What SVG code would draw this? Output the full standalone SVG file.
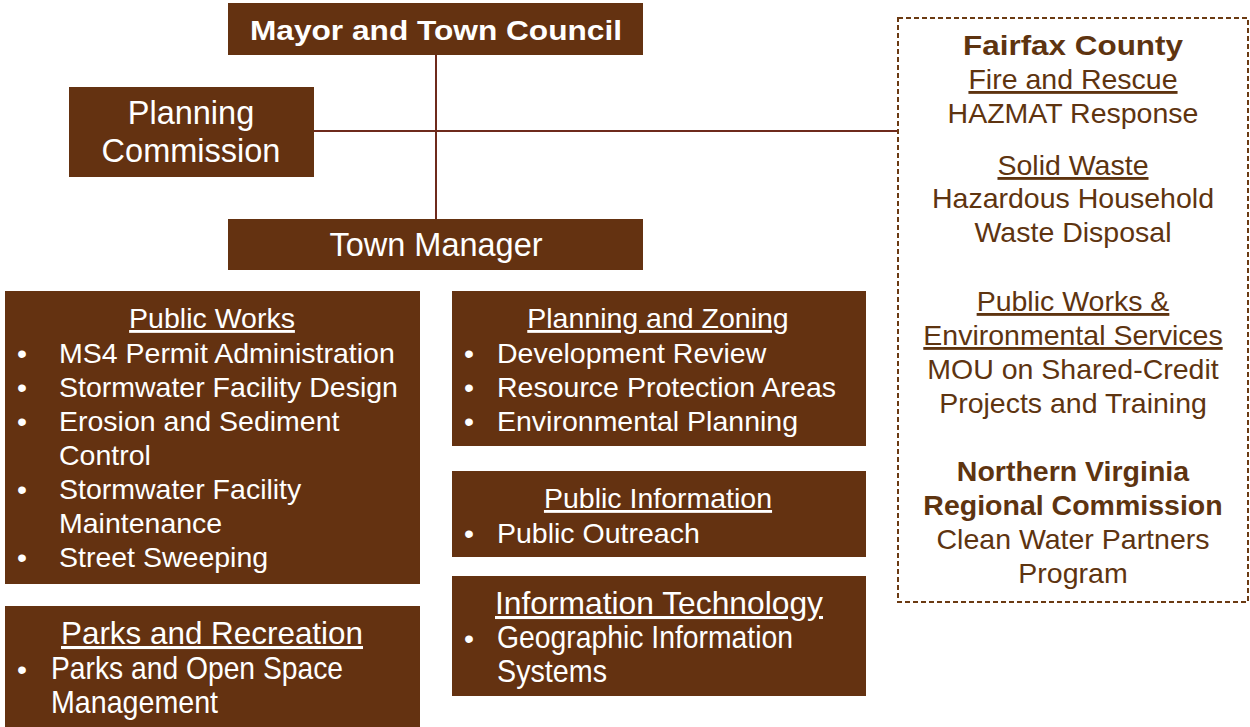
<svg xmlns="http://www.w3.org/2000/svg" width="1250" height="727" viewBox="0 0 1250 727">
  <style>
    .box { fill: #643211; }
    .w { fill: #ffffff; font-family: "Liberation Sans", Arial, sans-serif; font-size: 28.5px; }
    .big { font-size: 32.5px; }
    .tall { font-size: 30.5px; }
    .ctr { text-anchor: middle; }
    .u { text-decoration: underline; }
    .b { font-weight: bold; }
    .ext { fill: #5e3410; font-family: "Liberation Sans", Arial, sans-serif; font-size: 28.5px; text-anchor: middle; }
    .conn { stroke: #6e2a1c; stroke-width: 2; fill: none; }
  </style>
  <rect width="1250" height="727" fill="#ffffff"/>

  <g id="connectors">
    <line class="conn" x1="436" y1="55" x2="436" y2="219"/>
    <line class="conn" x1="314" y1="131" x2="898" y2="131"/>
  </g>

  <g id="mayor">
    <rect class="box" x="228" y="3" width="415" height="52"/>
    <text class="w ctr b" x="436" y="40" font-size="34" textLength="372" lengthAdjust="spacingAndGlyphs">Mayor and Town Council</text>
  </g>

  <g id="planning-commission">
    <rect class="box" x="69" y="87" width="245" height="90"/>
    <text class="w ctr big" x="191" y="124">Planning</text>
    <text class="w ctr big" x="191" y="162">Commission</text>
  </g>

  <g id="town-manager">
    <rect class="box" x="228" y="219" width="415" height="51"/>
    <text class="w ctr big" x="436" y="256">Town Manager</text>
  </g>

  <g id="public-works">
    <rect class="box" x="5" y="291" width="415" height="293"/>
    <text class="w ctr u" x="212" y="328">Public Works</text>
    <text class="w" x="17" y="363">•</text><text class="w" x="59" y="363">MS4 Permit Administration</text>
    <text class="w" x="17" y="397">•</text><text class="w" x="59" y="397">Stormwater Facility Design</text>
    <text class="w" x="17" y="431">•</text><text class="w" x="59" y="431">Erosion and Sediment</text>
    <text class="w" x="59" y="465">Control</text>
    <text class="w" x="17" y="499">•</text><text class="w" x="59" y="499">Stormwater Facility</text>
    <text class="w" x="59" y="533">Maintenance</text>
    <text class="w" x="17" y="567">•</text><text class="w" x="59" y="567">Street Sweeping</text>
  </g>

  <!-- condensed lettering: widths fixed with textLength -->
  <g id="parks-recreation">
    <rect class="box" x="5" y="606" width="415" height="121"/>
    <text class="w ctr u tall" x="212" y="644" textLength="302" lengthAdjust="spacingAndGlyphs">Parks and Recreation</text>
    <text class="w" x="17" y="679">•</text><text class="w tall" x="51" y="679" textLength="292" lengthAdjust="spacingAndGlyphs">Parks and Open Space</text>
    <text class="w tall" x="51" y="713" textLength="167" lengthAdjust="spacingAndGlyphs">Management</text>
  </g>

  <g id="planning-zoning">
    <rect class="box" x="452" y="291" width="414" height="155"/>
    <text class="w ctr u" x="658" y="328">Planning and Zoning</text>
    <text class="w" x="464" y="363">•</text><text class="w" x="497" y="363">Development Review</text>
    <text class="w" x="464" y="397">•</text><text class="w" x="497" y="397">Resource Protection Areas</text>
    <text class="w" x="464" y="431">•</text><text class="w" x="497" y="431">Environmental Planning</text>
  </g>

  <g id="public-information">
    <rect class="box" x="452" y="471" width="414" height="86"/>
    <text class="w ctr u" x="658" y="508">Public Information</text>
    <text class="w" x="464" y="543">•</text><text class="w" x="497" y="543">Public Outreach</text>
  </g>

  <g id="information-technology">
    <rect class="box" x="452" y="576" width="414" height="120"/>
    <text class="w ctr u tall" x="659" y="614" textLength="328" lengthAdjust="spacingAndGlyphs">Information  Technology</text>
    <text class="w" x="464" y="648">•</text><text class="w tall" x="497" y="648" textLength="296" lengthAdjust="spacingAndGlyphs">Geographic Information</text>
    <text class="w tall" x="497" y="682" textLength="110" lengthAdjust="spacingAndGlyphs">Systems</text>
  </g>

  <g id="external-partners">
    <rect x="898" y="18" width="350" height="584" fill="none" stroke="#6b3a12" stroke-width="2" stroke-dasharray="5,3"/>
    <text class="ext b" x="1073" y="55" font-size="34" textLength="220" lengthAdjust="spacingAndGlyphs">Fairfax County</text>
    <text class="ext u" x="1073" y="89">Fire and Rescue</text>
    <text class="ext" x="1073" y="123">HAZMAT Response</text>
    <text class="ext u" x="1073" y="175">Solid Waste</text>
    <text class="ext" x="1073" y="208">Hazardous Household</text>
    <text class="ext" x="1073" y="242">Waste Disposal</text>
    <text class="ext u" x="1073" y="311">Public Works &amp;</text>
    <text class="ext u" x="1073" y="345">Environmental Services</text>
    <text class="ext" x="1073" y="379">MOU on Shared-Credit</text>
    <text class="ext" x="1073" y="413">Projects and Training</text>
    <text class="ext b" x="1073" y="481">Northern Virginia</text>
    <text class="ext b" x="1073" y="515">Regional Commission</text>
    <text class="ext" x="1073" y="549">Clean Water Partners</text>
    <text class="ext" x="1073" y="583">Program</text>
  </g>
</svg>
